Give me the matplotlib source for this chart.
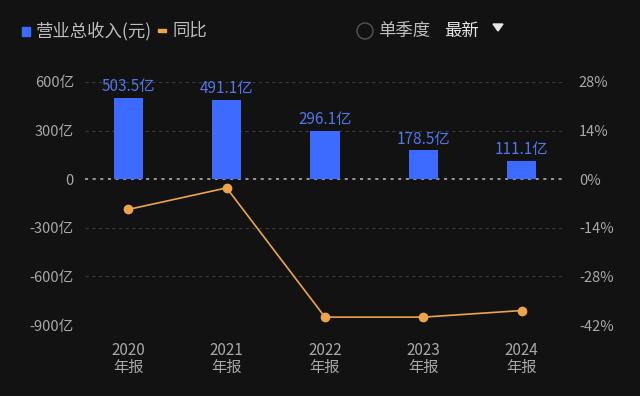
import numpy as np
import matplotlib.pyplot as plt
from matplotlib.patches import Ellipse

plt.rcParams['font.family'] = ['Noto Sans CJK SC', 'DejaVu Sans']

years = ['2020\n年报', '2021\n年报', '2022\n年报', '2023\n年报', '2024\n年报']
revenue = [503.5, 491.1, 296.1, 178.5, 111.1]   # 亿
growth = [-8.7, -2.5, -39.7, -39.7, -37.8]       # %
left_ticks = [-900, -600, -300, 0, 300, 600]
left_labels = ['-900亿', '-600亿', '-300亿', '0', '300亿', '600亿']
right_ticks = [-42, -28, -14, 0, 14, 28]

bg = '#121212'
blue = '#3d6bff'
orange = '#eda44c'
grey = '#a8a8a8'

fig = plt.figure(figsize=(6.4, 3.96), dpi=100, facecolor=bg)
ax = fig.add_axes([85/640, 0.179, 480/640, 0.614])
ax.set_facecolor(bg)
ax2 = ax.twinx()

x = np.arange(len(years))
ax.bar(x, revenue, width=0.30, color=blue, zorder=3)
for xi, v in zip(x, revenue):
    ax.annotate(f'{v}亿', (xi, v), xytext=(0, 2), textcoords='offset points',
                ha='center', va='bottom', color='#5077ea', fontsize=11)

ax.set_xlim(-0.44, 4.44)
ax.set_ylim(-900, 600)
ax.set_yticks(left_ticks)
ax.set_yticklabels(left_labels)
ax.set_xticks(x)
ax.set_xticklabels(years)
for y in left_ticks:
    if y == 0:
        ax.axhline(0, color='#bbbbbb', lw=1.1, ls=(0, (2, 3)), zorder=2)
    else:
        ax.axhline(y, color='#3a3a3a', lw=0.8, ls=(0, (3, 3)), zorder=1)

ax2.plot(x, growth, color=orange, lw=1.2, marker='o', ms=6, zorder=4)
ax2.set_ylim(-900 * 14 / 300, 600 * 14 / 300)
ax2.set_yticks(right_ticks)
ax2.set_yticklabels([f'{t}%' for t in right_ticks])

for a in (ax, ax2):
    for s in a.spines.values():
        s.set_visible(False)
    a.tick_params(length=0, colors=grey, labelsize=10.5)
ax.tick_params(axis='y', pad=8)
ax.tick_params(axis='x', pad=12)
ax2.tick_params(axis='y', pad=10)
for lab in ax.get_xticklabels():
    lab.set_linespacing(1.0)
    lab.set_fontsize(11)

# header legend
fig.patches.append(plt.Rectangle((22/640, 1 - 36/396), 8/640, 9/396,
                                 transform=fig.transFigure, color=blue))
fig.text(36/640, 1 - 31/396, '营业总收入(元)', color='#bdbdbd', fontsize=12.5, va='center')
fig.patches.append(plt.Rectangle((158/640, 1 - 32/396), 8/640, 3/396,
                                 transform=fig.transFigure, color=orange))
fig.text(172/640, 1 - 31/396, '同比', color='#bdbdbd', fontsize=12.5, va='center')
fig.patches.append(Ellipse((365/640, 1 - 31/396), 16/640, 16/396, transform=fig.transFigure,
                           fill=False, ec='#555555', lw=1))
fig.text(378/640, 1 - 31/396, '单季度', color='#bdbdbd', fontsize=12.5, va='center')
fig.text(444/640, 1 - 31/396, '最新', color='#e6e6e6', fontsize=12.5, va='center')
fig.patches.append(plt.Polygon([(493/640, 1 - 24/396), (503/640, 1 - 24/396),
                                (498/640, 1 - 31/396)], transform=fig.transFigure,
                               color='#e6e6e6'))

fig.savefig('out.png', dpi=100, facecolor=bg)
